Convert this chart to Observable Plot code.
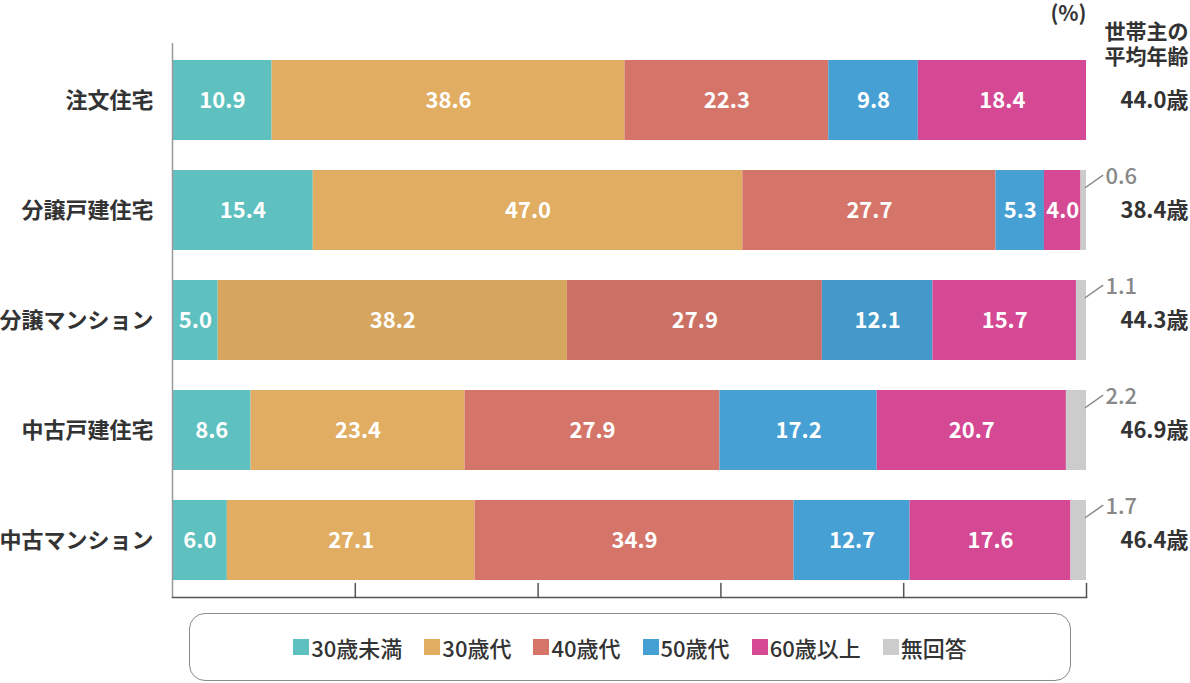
<!DOCTYPE html>
<html><head><meta charset="utf-8">
<script src="https://cdn.jsdelivr.net/npm/d3@7"></script>
<script src="https://cdn.jsdelivr.net/npm/@observablehq/plot@0.6"></script>
<style>
body{margin:0;background:#fff;font-family:"Noto Sans CJK JP","Noto Sans",sans-serif;}
#chart svg{display:block;}
#legend{box-sizing:border-box;margin:13px 0 0 189px;width:882px;height:68px;border:1.5px solid #8a8a8a;border-radius:16px;display:flex;align-items:center;justify-content:center;gap:22px;font-size:22px;font-weight:500;color:#333;}
#legend .item{display:flex;align-items:center;gap:2px;}
#legend .sw{width:16px;height:16px;display:inline-block;}
</style></head><body><div id="chart"></div><div id="legend"></div><script>
const categories = ["注文住宅","分譲戸建住宅","分譲マンション","中古戸建住宅","中古マンション"];
const series = ["30歳未満","30歳代","40歳代","50歳代","60歳以上","無回答"];
const colors = ["#5ec1c0","#e0ad62","#d5756a","#46a0d3","#d44894","#cccccc"];
const under30   = [10.9, 15.4,  5.0,  8.6,  6.0];
const age30s    = [38.6, 47.0, 38.2, 23.4, 27.1];
const age40s    = [22.3, 27.7, 27.9, 27.9, 34.9];
const age50s    = [ 9.8,  5.3, 12.1, 17.2, 12.7];
const age60plus = [18.4,  4.0, 15.7, 20.7, 17.6];
const noAnswer  = [ 0.0,  0.6,  1.1,  2.2,  1.7];
const avgAge    = [44.0, 38.4, 44.3, 46.9, 46.4];
const xTicks = [20, 40, 60, 80, 100];

const seriesValues = [under30, age30s, age40s, age50s, age60plus, noAnswer];
const rows = [];
categories.forEach((c, i) => {
  let acc = 0;
  series.forEach((s, j) => {
    const v = seriesValues[j][i];
    rows.push({cat: c, series: s, value: v, x1: acc, x2: acc + v, i, j});
    acc += v;
  });
});
const inner = rows.filter(d => d.series !== "無回答" && d.value > 0);
const small = rows.filter(d => d.series === "無回答" && d.value > 0);
const ages = categories.map((c, i) => ({cat: c, age: avgAge[i]}));
const line = {draw(ctx, l) { ctx.moveTo(0, 0); ctx.lineTo(0, -l); }};
const fillOf = d => {
  const c = colors[d.j];
  return (d.i === 2 && d.j >= 1 && d.j <= 3) ? d3.color(c).darker(0.13).formatHex() : c;
};

const plot = Plot.plot({
  width: 1190, height: 600,
  marginLeft: 172, marginRight: 104, marginTop: 43, marginBottom: 3,
  x: {domain: [0, 100], axis: null},
  y: {domain: categories, axis: null, paddingInner: 0.276, paddingOuter: 0.136},
  style: {fontFamily: '"Noto Sans CJK JP","Noto Sans",sans-serif', fontSize: "22px", color: "#333", overflow: "visible"},
  marks: [
    Plot.barX(rows, {x1: "x1", x2: "x2", y: "cat", fill: fillOf}),
    Plot.text(inner, {x: d => (d.x1 + d.x2) / 2, y: "cat", text: d => d.value.toFixed(1), fill: "white", fontWeight: "bold", fontSize: 22}),
    Plot.ruleX([0], {stroke: "#999", strokeWidth: 1.5}),
    Plot.frame({anchor: "bottom", stroke: "#555", strokeWidth: 1.5}),
    Plot.vector(xTicks, {x: d => d, frameAnchor: "bottom", anchor: "start", length: 14, rotate: 0, shape: line, stroke: "#555", strokeWidth: 1.5}),
    Plot.vector(small, {x: "x2", y: "cat", anchor: "start", rotate: 55, length: 21, dx: -1, dy: -23, shape: line, stroke: "#888", strokeWidth: 1.5}),
    Plot.text(small, {x: "x2", y: "cat", dx: 19, dy: -34, textAnchor: "start", fill: "#888", fontSize: 22, fontWeight: 500, text: d => d.value.toFixed(1)}),
    Plot.text(categories, {y: d => d, frameAnchor: "left", dx: -19, textAnchor: "end", fontWeight: "bold", fill: "#333", fontSize: 22}),
    Plot.text(ages, {y: "cat", frameAnchor: "right", dx: 102, textAnchor: "end", fontWeight: "bold", fill: "#333", fontSize: 22, text: d => d.age.toFixed(1) + "歳"}),
    Plot.text(["世帯主の\n平均年齢"], {frameAnchor: "top-right", dx: 102, textAnchor: "end", lineAnchor: "middle", lineHeight: 1.2, fontWeight: "bold", fill: "#333", fontSize: 21}),
    Plot.text(["(%)"], {frameAnchor: "top-right", dy: -29, textAnchor: "end", lineAnchor: "middle", fontWeight: "bold", fill: "#333", fontSize: 21})
  ]
});
document.getElementById("chart").appendChild(plot);

const legend = document.getElementById("legend");
series.forEach((s, j) => {
  const item = document.createElement("span");
  item.className = "item";
  item.innerHTML = `<span class="sw" style="background:${colors[j]}"></span><span>${s}</span>`;
  legend.appendChild(item);
});
</script></body></html>
